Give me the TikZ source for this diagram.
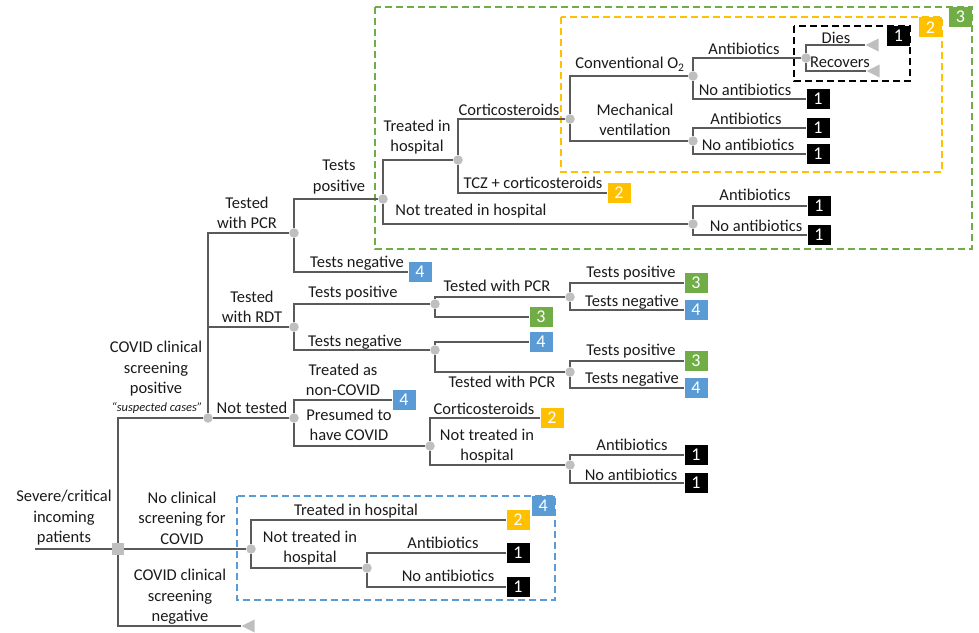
\documentclass[tikz,border=0pt]{standalone}
\usepackage{fontspec}
\setmainfont{Carlito}
\usetikzlibrary{shapes.geometric}
\definecolor{lineC}{HTML}{5A5A5A}
\definecolor{dotC}{HTML}{BFBFBF}
\definecolor{textC}{HTML}{1A1A1A}
\definecolor{greenC}{HTML}{70AD47}
\definecolor{orangeC}{HTML}{FFC000}
\definecolor{blueC}{HTML}{5B9BD5}
\pgfdeclarelayer{bg}
\pgfsetlayers{bg,main}
\tikzset{
  numbox/.style={minimum width=23pt, minimum height=20pt, inner sep=0pt, text=white,
    font=\fontsize{18}{18}\selectfont},
  boxk/.style={numbox, fill=black},
  boxo/.style={numbox, fill=orangeC},
  boxg/.style={numbox, fill=greenC},
  boxb/.style={numbox, fill=blueC},
  jdot/.style={circle, fill=dotC, minimum size=9.5pt, inner sep=0pt},
  sqr/.style={rectangle, fill=dotC, minimum size=12pt, inner sep=0pt},
  tri/.style={isosceles triangle, shape border rotate=180, fill=dotC, inner sep=0pt,
    minimum height=13pt, minimum width=13pt, isosceles triangle stretches},
  lab/.style={inner sep=0pt, align=center, text=textC, font=\fontsize{16.5}{20.5}\selectfont},
  conn/.style={draw=lineC, line width=1.3pt},
  frame/.style={line width=1.6pt, dash pattern=on 7pt off 4pt},
}
\begin{document}
\begin{tikzpicture}[x=1pt,y=-1pt]
\useasboundingbox (0,0) rectangle (979,632);
% decision / chance nodes
\coordinate (st) at (35,549);
\node[sqr] (sq) at (118,549) {};
\node[jdot] (cp) at (208,418) {};
\node[jdot] (ncs) at (251,549) {};
\node[tri,anchor=apex] (negt) at (241,626) {};
\node[jdot] (pcr) at (294,233) {};
\node[jdot] (rdt) at (294,327) {};
\node[jdot] (nt) at (294,418) {};
\node[jdot] (tp) at (383,199) {};
\node[boxb] (b4a) at (420,272) {4};
\node[jdot] (tih) at (458,160) {};
\node[jdot] (ntih) at (693,224) {};
\node[jdot] (cort) at (570,119) {};
\node[boxo] (b2a) at (619,193) {2};
\node[jdot] (co2) at (693,76) {};
\node[jdot] (mv) at (693,141) {};
\node[jdot] (ab) at (806,58) {};
\node[boxk] (b1a) at (818,99) {1};
\node[tri,anchor=apex] (t1) at (865,45) {};
\node[tri,anchor=apex] (t2) at (866,71) {};
\node[boxk] (b1b) at (818,128) {1};
\node[boxk] (b1c) at (818,154) {1};
\node[boxk] (b1d) at (819,206) {1};
\node[boxk] (b1e) at (819,235) {1};
\node[jdot] (tp2) at (435,304) {};
\node[jdot] (tn2) at (435,350) {};
\node[jdot] (pcr2) at (570,297) {};
\node[boxg] (g3a) at (541,317) {3};
\node[boxg] (g3b) at (696,283) {3};
\node[boxb] (b4b) at (696,310) {4};
\node[boxb] (b4c) at (541,342) {4};
\node[jdot] (pcr3) at (570,372) {};
\node[boxg] (g3c) at (696,361) {3};
\node[boxb] (b4d) at (696,388) {4};
\node[boxb] (b4e) at (404,400) {4};
\node[jdot] (pres) at (430,446) {};
\node[boxo] (b2b) at (552,418) {2};
\node[jdot] (nth2) at (570,465) {};
\node[boxk] (b1f) at (696,455) {1};
\node[boxk] (b1g) at (696,483) {1};
\node[boxo] (b2c) at (518,520) {2};
\node[jdot] (nth3) at (367,568) {};
\node[boxk] (b1h) at (518,553) {1};
\node[boxk] (b1i) at (518,587) {1};
% frame labels
\node[boxg,anchor=north east] (l3) at (972,7) {3};
\node[boxo,anchor=north east] (l2) at (942,17) {2};
\node[boxk,anchor=north east] (l1) at (910,26) {1};
\node[boxb,anchor=north east] (l4) at (555,496) {4};
\begin{pgfonlayer}{bg}
\draw[frame, draw=greenC] (375,7) rectangle (972,249);
\draw[frame, draw=orangeC] (561,17) rectangle (942,172);
\draw[frame, draw=black] (794,26) rectangle (910,81);
\draw[frame, draw=blueC] (237,496) rectangle (555,600);
\draw[conn] (st) -- (sq);
\draw[conn] (sq) |- (cp);
\draw[conn] (sq) -- (ncs);
\draw[conn] (sq) |- (negt.apex);
\draw[conn] (cp) |- (pcr);
\draw[conn] (cp) |- (rdt);
\draw[conn] (cp) -- (nt);
\draw[conn] (pcr) |- (tp);
\draw[conn] (pcr) |- (b4a.west);
\draw[conn] (tp) |- (tih);
\draw[conn] (tp) |- (ntih);
\draw[conn] (tih) |- (cort);
\draw[conn] (tih) |- (b2a.west);
\draw[conn] (cort) |- (co2);
\draw[conn] (cort) |- (mv);
\draw[conn] (co2) |- (ab);
\draw[conn] (co2) |- (b1a.west);
\draw[conn] (ab) |- (t1.apex);
\draw[conn] (ab) |- (t2.apex);
\draw[conn] (mv) |- (b1b.west);
\draw[conn] (mv) |- (b1c.west);
\draw[conn] (ntih) |- (b1d.west);
\draw[conn] (ntih) |- (b1e.west);
\draw[conn] (rdt) |- (tp2);
\draw[conn] (rdt) |- (tn2);
\draw[conn] (tp2) |- (pcr2);
\draw[conn] (tp2) |- (g3a.west);
\draw[conn] (pcr2) |- (g3b.west);
\draw[conn] (pcr2) |- (b4b.west);
\draw[conn] (tn2) |- (b4c.west);
\draw[conn] (tn2) |- (pcr3);
\draw[conn] (pcr3) |- (g3c.west);
\draw[conn] (pcr3) |- (b4d.west);
\draw[conn] (nt) |- (b4e.west);
\draw[conn] (nt) |- (pres);
\draw[conn] (pres) |- (b2b.west);
\draw[conn] (pres) |- (nth2);
\draw[conn] (nth2) |- (b1f.west);
\draw[conn] (nth2) |- (b1g.west);
\draw[conn] (ncs) |- (b2c.west);
\draw[conn] (ncs) |- (nth3);
\draw[conn] (nth3) |- (b1h.west);
\draw[conn] (nth3) |- (b1i.west);
\end{pgfonlayer}
% labels
\node[lab] (x1) at (64,518) {Severe/critical\\incoming\\patients};
\node[lab] (x2) at (182,518) {No clinical\\screening for\\COVID};
\node[lab] (x3) at (180,597) {COVID clinical\\screening\\negative};
\node[lab] (x4) at (156,369) {COVID clinical\\screening\\positive};
\node[lab, font=\fontsize{12.5}{14}\selectfont\itshape] (x5) at (157,408) {``suspected cases''};
\node[lab] (x6) at (247,213) {Tested\\with PCR};
\node[lab] (x7) at (252,307) {Tested\\with RDT};
\node[lab] (x8) at (252,408) {Not tested};
\node[lab] (x9) at (339,177) {Tests\\positive};
\node[lab] (x10) at (357,263) {Tests negative};
\node[lab] (x11) at (417,137) {Treated in\\hospital};
\node[lab] (x12) at (509,110) {Corticosteroids};
\node[lab] (x13) at (533,183) {TCZ + corticosteroids};
\node[lab] (x14) at (471,211) {Not treated in hospital};
\node[lab] (x15) at (635,120) {Mechanical\\ventilation};
\node[lab] (x16) at (630,64) {Conventional O\textsubscript{2}};
\node[lab] (x17) at (744,49) {Antibiotics};
\node[lab] (x18) at (745,90) {No antibiotics};
\node[lab] (x19) at (836,38) {Dies};
\node[lab] (x20) at (840,62) {Recovers};
\node[lab] (x21) at (746,119) {Antibiotics};
\node[lab] (x22) at (748,145) {No antibiotics};
\node[lab] (x23) at (755,195) {Antibiotics};
\node[lab] (x24) at (756,226) {No antibiotics};
\node[lab] (x25) at (353,293) {Tests positive};
\node[lab] (x26) at (355,342) {Tests negative};
\node[lab] (x27) at (497,286) {Tested with PCR};
\node[lab] (x28) at (502,382) {Tested with PCR};
\node[lab] (x29) at (631,273) {Tests positive};
\node[lab] (x30) at (632,302) {Tests negative};
\node[lab] (x31) at (631,351) {Tests positive};
\node[lab] (x32) at (632,379) {Tests negative};
\node[lab] (x33) at (343,380) {Treated as\\non-COVID};
\node[lab] (x34) at (349,425) {Presumed to\\have COVID};
\node[lab] (x35) at (484,409) {Corticosteroids};
\node[lab] (x36) at (487,446) {Not treated in\\hospital};
\node[lab] (x37) at (632,445) {Antibiotics};
\node[lab] (x38) at (631,475) {No antibiotics};
\node[lab] (x39) at (356,511) {Treated in hospital};
\node[lab] (x40) at (310,548) {Not treated in\\hospital};
\node[lab] (x41) at (443,543) {Antibiotics};
\node[lab] (x42) at (448,576) {No antibiotics};
\end{tikzpicture}
\end{document}
